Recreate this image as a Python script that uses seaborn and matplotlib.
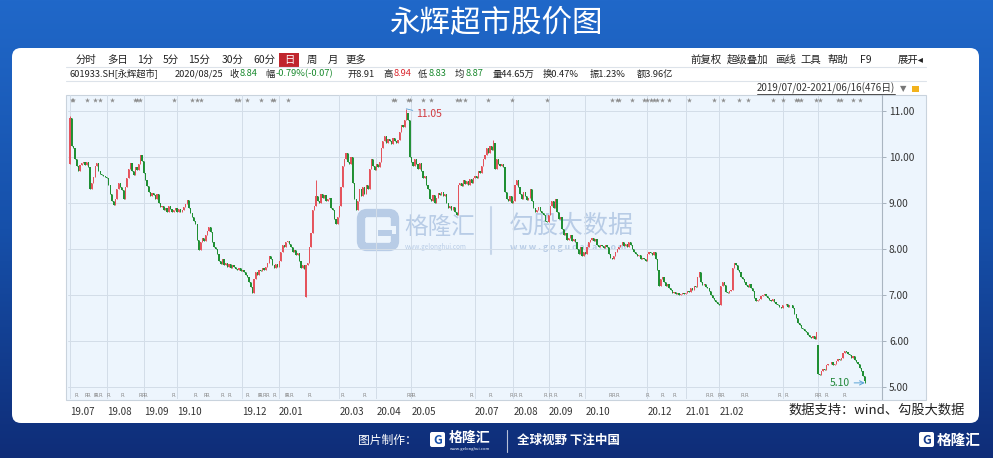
import matplotlib
matplotlib.use('Agg')

import numpy as np
import pandas as pd
import matplotlib.pyplot as plt
import seaborn as sns
from matplotlib.colors import LinearSegmentedColormap
from matplotlib.patches import FancyBboxPatch, Rectangle
from matplotlib.transforms import blended_transform_factory

# ---- data: trading days per month and daily closes ----
month_names = ['19.07', '19.08', '19.09', '19.10', '19.11', '19.12',
               '20.01', '20.02', '20.03', '20.04', '20.05', '20.06',
               '20.07', '20.08', '20.09', '20.10', '20.11', '20.12',
               '21.01', '21.02', '21.03', '21.04', '21.05', '21.06']
month_days = [22, 22, 20, 18, 21, 22, 16, 20, 22, 21, 18, 20,
              23, 21, 22, 16, 21, 23, 20, 15, 23, 21, 18, 11]
grid_months = ['19.07', '19.08', '19.09', '19.10', '19.12', '20.01', '20.03', '20.04',
               '20.05', '20.07', '20.08', '20.09', '20.10', '20.12', '21.01', '21.02',
               '21.04', '21.05']
labelled_months = grid_months[:-2]

close_2019h2 = [
    10.85, 10.25, 10.20, 9.95, 9.80, 9.70, 9.82, 9.88, 9.90, 9.84, 9.90, 9.78, 9.30, 9.45, 9.58, 9.80, 9.87, 9.70, 9.64, 9.62, 9.60, 9.57,
    9.55, 9.40, 9.20, 9.05, 8.96, 9.10, 9.30, 9.45, 9.35, 9.28, 9.10, 9.35, 9.55, 9.75, 9.87, 9.70, 9.62, 9.78, 9.72, 9.85, 10.05, 9.92,
    9.65, 9.50, 9.38, 9.25, 9.15, 9.22, 9.18, 9.10, 9.20, 9.00, 8.92, 8.95, 8.85, 8.90, 8.82, 8.95, 8.88, 8.80, 8.85, 8.90,
    8.82, 8.88, 8.80, 8.85, 8.92, 8.98, 9.07, 8.90, 8.78, 8.70, 8.62, 8.55, 8.20, 7.98, 8.15, 8.25, 8.18, 8.30,
    8.40, 8.49, 8.38, 8.15, 8.05, 8.00, 7.90, 7.75, 7.68, 7.78, 7.65, 7.70, 7.62, 7.68, 7.60, 7.65, 7.62, 7.58, 7.55, 7.60, 7.52,
    7.55, 7.50, 7.45, 7.40, 7.30, 7.18, 7.05, 7.35, 7.50, 7.45, 7.55, 7.52, 7.60, 7.55, 7.62, 7.70, 7.85, 7.80, 7.65, 7.60, 7.68, 7.62,
]
close_2020h1 = [
    7.75, 7.95, 8.10, 8.05, 8.15, 8.18, 8.12, 8.05, 7.95, 7.98, 7.88, 7.92, 7.75, 7.60, 7.65, 7.58,
    7.65, 7.70, 8.05, 8.35, 8.85, 8.95, 9.15, 9.05, 9.00, 9.20, 9.12, 9.18, 9.05, 9.10, 9.12, 8.90, 8.85, 8.65, 8.55, 8.70,
    8.95, 9.35, 9.80, 9.95, 10.10, 9.90, 9.85, 10.00, 9.45, 9.10, 8.85, 9.05, 9.30, 9.15, 9.35, 9.20, 9.40, 9.30, 9.75, 9.95, 9.80, 9.72,
    9.85, 9.78, 9.90, 10.20, 10.35, 10.45, 10.30, 10.40, 10.35, 10.28, 10.42, 10.35, 10.30, 10.38, 10.55, 10.70, 10.65, 10.80, 10.95, 10.80, 10.00,
    9.90, 9.80, 9.95, 9.85, 9.75, 9.88, 9.70, 9.55, 9.60, 9.40, 9.30, 9.10, 9.05, 9.18, 9.00, 9.12, 9.22, 9.18,
    9.25, 9.15, 9.20, 9.00, 8.90, 8.95, 8.85, 8.92, 8.80, 8.75, 9.40, 9.45, 9.38, 9.50, 9.42, 9.48, 9.40, 9.52, 9.45, 9.55,
]
close_2020h2 = [
    9.60, 9.55, 9.70, 9.65, 9.80, 9.95, 10.05, 10.20, 10.10, 10.25, 10.15, 10.30, 9.75, 9.95, 9.85, 9.80, 9.85, 9.78, 9.25, 9.10, 9.05, 9.15, 9.00,
    9.05, 9.40, 9.50, 9.35, 9.20, 9.10, 9.25, 9.15, 9.08, 9.12, 9.30, 9.05, 8.90, 8.80, 8.85, 8.91, 8.84, 8.78, 8.75, 8.62, 8.60,
    8.75, 8.95, 9.05, 8.90, 9.10, 8.80, 8.65, 8.70, 8.45, 8.30, 8.35, 8.20, 8.25, 8.30, 8.18, 8.22, 8.15, 8.00, 7.90, 8.05, 7.85, 7.95,
    7.90, 8.05, 8.15, 8.20, 8.25, 8.18, 8.22, 8.10, 8.05, 8.10, 8.08, 8.02, 8.10, 8.05, 7.90, 7.82,
    7.80, 7.85, 7.95, 8.00, 8.05, 8.10, 8.15, 8.08, 8.12, 8.05, 8.15, 8.10, 8.00, 7.95, 7.90, 7.85, 7.88, 7.80, 7.82, 7.78, 7.75,
    7.90, 7.95, 7.92, 7.88, 7.95, 7.80, 7.55, 7.20, 7.35, 7.40, 7.30, 7.20, 7.25, 7.15, 7.12, 7.05, 7.08, 7.02, 7.05, 7.00, 7.03, 7.06, 7.02,
]
close_2021h1 = [
    7.05, 7.10, 7.08, 7.15, 7.12, 7.20, 7.18, 7.40, 7.50, 7.30, 7.22, 7.25, 7.18, 7.15, 7.10, 7.00, 6.95, 6.90, 6.85, 6.82,
    6.80, 7.20, 7.28, 7.22, 7.08, 7.05, 7.10, 7.12, 7.60, 7.70, 7.65, 7.55, 7.50, 7.40, 7.35,
    7.30, 7.22, 7.18, 7.25, 7.15, 7.10, 6.95, 6.88, 6.90, 6.92, 6.98, 7.00, 7.02, 6.98, 6.95, 6.90, 6.88, 6.92, 6.85, 6.82, 6.80, 6.75, 6.72,
    6.78, 6.80, 6.82, 6.75, 6.78, 6.80, 6.72, 6.60, 6.50, 6.40, 6.35, 6.30, 6.28, 6.22, 6.20, 6.15, 6.10, 6.08, 6.12, 6.05, 6.20,
    5.30, 5.28, 5.35, 5.40, 5.38, 5.48, 5.52, 5.50, 5.55, 5.48, 5.52, 5.58, 5.62, 5.60, 5.65, 5.75, 5.80, 5.78,
    5.72, 5.70, 5.65, 5.68, 5.60, 5.55, 5.50, 5.42, 5.35, 5.25, 5.15,
]
first_open = 9.85
open_gaps = {141: 6.96, 447: 5.92}          # gapped opens
wick_high = {0: 10.90, 147: 9.50, 201: 11.05, 253: 10.38}
wick_low = {141: 6.96, 475: 5.10}

# event markers (trading-day index)
star_days = [1, 2, 10, 15, 18, 25, 39, 40, 42, 62, 73, 76, 78, 99, 101, 106, 114, 121, 122, 130,
             193, 194, 202, 203, 211, 216, 231, 233, 236, 250, 264, 285, 324, 327, 328, 336, 343,
             345, 347, 349, 351, 354, 358, 370, 385, 390, 400, 405, 420, 426, 434, 435, 437, 446,
             448, 459, 461, 468, 472]
r_days = [4, 10, 11, 15, 16, 18, 23, 31, 42, 44, 45, 62, 75, 81, 82, 91, 95, 106, 113, 114, 116,
          118, 122, 129, 130, 132, 143, 163, 176, 202, 204, 205, 240, 251, 264, 266, 269, 284,
          287, 290, 305, 323, 325, 327, 345, 354, 361, 381, 383, 388, 390, 402, 404, 424, 428,
          446, 448, 452, 463]

price_ticks = [5, 6, 7, 8, 9, 10, 11]

# ---- assemble OHLC ----
closes = np.array(close_2019h2 + close_2020h1 + close_2020h2 + close_2021h1)
assert len(closes) == sum(month_days), (len(closes), sum(month_days))
opens = np.r_[first_open, closes[:-1]]
for k, v in open_gaps.items():
    opens[k] = v
highs = np.maximum(opens, closes)
lows = np.minimum(opens, closes)
for k, v in wick_high.items():
    highs[k] = v
for k, v in wick_low.items():
    lows[k] = v
df = pd.DataFrame({'day': np.arange(len(closes)), 'open': opens, 'close': closes,
                   'high': highs, 'low': lows})
df['up'] = df['close'] >= df['open']

month_start = dict(zip(month_names, np.r_[0, np.cumsum(month_days)[:-1]]))

# ---- style ----
sns.set_theme(style='white')
plt.rcParams['font.family'] = ['Noto Sans CJK SC', 'DejaVu Sans']

W, H = 993, 458
fig = plt.figure(figsize=(W / 100, H / 100), dpi=100)

# background layer in pixel coordinates
bg = fig.add_axes([0, 0, 1, 1])
bg.set_xlim(0, W)
bg.set_ylim(H, 0)
bg.set_axis_off()
grad = np.linspace(0, 1, 256).reshape(-1, 1)
cmap = LinearSegmentedColormap.from_list('bg', ['#2068c9', '#1650aa', '#0f2d78'])
bg.imshow(grad, aspect='auto', cmap=cmap, extent=[0, W, H, 0], zorder=0)

bg.text(W / 2, 23, '永辉超市股价图', color='white', fontsize=22, fontweight='medium',
        ha='center', va='center')

bg.add_patch(FancyBboxPatch((12, 48), 967, 375, boxstyle='round,pad=0,rounding_size=9',
                            facecolor='white', edgecolor='none', zorder=1))

# toolbar
row1 = [('分时', 76), ('多日', 107), ('1分', 137), ('5分', 163), ('15分', 188),
        ('30分', 222), ('60分', 253), ('周', 307), ('月', 328), ('更多', 345)]
for s, x in row1:
    bg.text(x, 60, s, fontsize=7.5, color='#222', va='center', zorder=3)
bg.add_patch(Rectangle((279, 53), 20, 14, facecolor='#c0262d', edgecolor='none', zorder=2))
bg.text(289, 60, '日', fontsize=7.5, color='white', ha='center', va='center', zorder=3)
for s, x in [('前复权', 690), ('超级叠加', 727), ('画线', 775), ('工具', 800),
             ('帮助', 827), ('F9', 860), ('展开◂', 898)]:
    bg.text(x, 60, s, fontsize=7.5, color='#222', va='center', zorder=3)

row2 = [('601933.SH[永辉超市]', 70, '#222'), ('2020/08/25', 175, '#222'),
        ('收', 229, '#222'), ('8.84', 240, '#1a8a2e'), ('幅', 265, '#222'),
        ('-0.79%(-0.07)', 276, '#1a8a2e'), ('开8.91', 347, '#222'),
        ('高', 383, '#222'), ('8.94', 394, '#d9272e'), ('低', 418, '#222'),
        ('8.83', 429, '#1a8a2e'), ('均', 455, '#222'), ('8.87', 466, '#1a8a2e'),
        ('量44.65万', 493, '#222'), ('换0.47%', 543, '#222'), ('振1.23%', 590, '#222'),
        ('额3.96亿', 637, '#222')]
for s, x, c in row2:
    bg.text(x, 74, s, fontsize=6.7, color=c, va='center', zorder=3)
bg.plot([66, 926], [67, 67], color='#dde3ea', lw=0.8, zorder=2)
bg.plot([66, 926], [81, 81], color='#dde3ea', lw=0.8, zorder=2)
bg.text(757, 88.5, '2019/07/02-2021/06/16(476日)', fontsize=7.0, color='#333', va='center', zorder=3)
bg.plot([757, 895], [94, 94], color='#333', lw=0.6, zorder=3)
bg.text(900, 88.5, '▼', fontsize=6, color='#777', va='center', zorder=3, family=['DejaVu Sans'])
bg.add_patch(Rectangle((912, 86), 7, 6, facecolor='#f2b21c', edgecolor='none', zorder=3))

# chart panel
bg.add_patch(Rectangle((66, 95), 860, 305, facecolor='#edf5fd', edgecolor='#c9d3dd', lw=0.8, zorder=1))

# watermarks
wm = '#b8cce6'
bg.add_patch(FancyBboxPatch((361, 213), 34, 34, boxstyle='round,pad=0,rounding_size=6',
                            facecolor='none', edgecolor=wm, lw=6, zorder=2))
bg.add_patch(Rectangle((380, 226), 16, 8, facecolor='#edf5fd', edgecolor='none', zorder=2))
bg.add_patch(Rectangle((378, 230), 14, 6, facecolor=wm, edgecolor='none', zorder=2))
bg.text(404, 227, '格隆汇', fontsize=17, color=wm, va='center', zorder=2)
bg.text(405, 247, 'www.gelonghui.com', fontsize=4.6, color=wm, va='center', zorder=2)
bg.plot([491, 491], [207, 254], color='#c6d6ea', lw=1.5, zorder=2)
bg.text(509, 226, '勾股大数据', fontsize=18, color=wm, va='center', zorder=2)
bg.text(510, 247, 'w w w . g o g u d a t a . c o m', fontsize=6.2, color=wm, va='center',
        fontweight='bold', zorder=2)

bg.text(965, 410, '数据支持：wind、勾股大数据', fontsize=9.5, color='#222', ha='right',
        va='center', fontweight='medium', zorder=3)

# footer
bg.text(358, 440, '图片制作：', fontsize=8.5, color='white', va='center')
bg.add_patch(FancyBboxPatch((430, 432), 15, 15, boxstyle='round,pad=0,rounding_size=2',
                            facecolor='white', edgecolor='none'))
bg.text(437.5, 440, 'G', fontsize=9, color='#1650aa', ha='center', va='center', fontweight='bold')
bg.text(449, 438, '格隆汇', fontsize=10, color='white', va='center', fontweight='bold')
bg.text(450, 449, 'www.gelonghui.com', fontsize=3, color='white', va='center')
bg.plot([507, 507], [430, 452], color='white', lw=0.8, alpha=0.7)
bg.text(517, 440, '全球视野 下注中国', fontsize=9, color='white', va='center', fontweight='bold')
bg.add_patch(FancyBboxPatch((919, 432), 15, 15, boxstyle='round,pad=0,rounding_size=2',
                            facecolor='white', edgecolor='none'))
bg.text(926.5, 440, 'G', fontsize=9, color='#123a8a', ha='center', va='center', fontweight='bold')
bg.text(937, 440, '格隆汇', fontsize=10.5, color='white', va='center', fontweight='bold')

# ---- candlestick axes ----
ax = fig.add_axes([68 / W, 1 - 399 / H, (882 - 68) / W, (399 - 95) / H])
ax.patch.set_visible(False)
up_c, dn_c = '#e5535c', '#1f8f33'
colors = np.where(df['up'], up_c, dn_c)
ax.vlines(df['day'], df['low'], df['high'], colors=colors, lw=0.7, zorder=3)
body = (df['close'] - df['open']).abs().clip(lower=0.02)
ax.bar(df['day'], body, bottom=df[['open', 'close']].min(axis=1), width=0.72,
       color=colors, linewidth=0, zorder=3)

# markers along top and bottom
top = blended_transform_factory(ax.transData, ax.transAxes)
sns.scatterplot(x=star_days, y=[0.985] * len(star_days), ax=ax, transform=top,
                marker='*', s=14, color='#8c8c8c', linewidth=0, clip_on=False, zorder=4)
for d in r_days:
    ax.text(d, 0.012, 'R', transform=top, fontsize=3.8, color='#8a8a8a', ha='center',
            va='center', family=['DejaVu Sans'])

# annotations
pk = df.loc[df['high'].idxmax()]
ax.annotate(f"{pk['high']:.2f}", xy=(pk['day'], pk['high']), xytext=(7, -4),
            textcoords='offset points', fontsize=7.5, color='#d23a40', va='center',
            arrowprops=dict(arrowstyle='-', color='#5aa3d6', lw=0.6, shrinkA=0, shrinkB=0))
lo = df.loc[df['low'].idxmin()]
ax.annotate(f"{lo['low']:.2f}", xy=(lo['day'], lo['low']), xytext=(-11, 0),
            textcoords='offset points', fontsize=7.5, color='#23883a', ha='right', va='center',
            arrowprops=dict(arrowstyle='->', color='#5aa3d6', lw=0.7, shrinkA=1, shrinkB=0))

ax.set_xlim(-1.2, 485.3)
ax.set_ylim(4.75, 11.35)
ax.set_yticks(price_ticks)
ax.set_yticklabels([f'{v:.2f}' for v in price_ticks])
ax.yaxis.tick_right()
ax.tick_params(axis='y', length=3, width=0.6, color='#9aa6b2', pad=2, labelsize=7.3,
               labelcolor='#333')
ax.set_xticks([month_start[m] for m in grid_months])
ax.set_xticklabels([m if m in labelled_months else '' for m in grid_months], ha='left')
ax.tick_params(axis='x', length=3, width=0.5, color='#9aa6b2', pad=3, labelsize=7,
               labelcolor='#333', direction='out')
ax.grid(True, color='#d3dde8', lw=0.7)
for side in ['top', 'left', 'bottom']:
    ax.spines[side].set_visible(False)
ax.spines['right'].set_color('#aab5c1')
ax.spines['right'].set_linewidth(0.8)

fig.savefig('out.png', dpi=100)
